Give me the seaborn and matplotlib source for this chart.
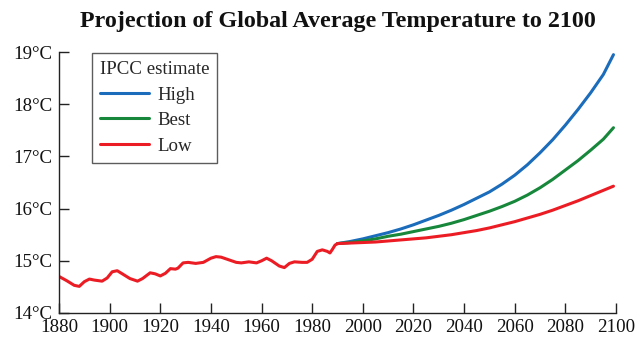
import pandas as pd
import matplotlib
matplotlib.use("Agg")
import matplotlib.pyplot as plt
import seaborn as sns

hist_years = [1880, 1883, 1886, 1888, 1890, 1892, 1894, 1897, 1899, 1901, 1903, 1905,
              1908, 1911, 1913, 1916, 1918, 1920, 1922, 1924, 1926, 1927, 1929, 1931,
              1934, 1937, 1940, 1942, 1944, 1947, 1950, 1952, 1955, 1958, 1960, 1962,
              1964, 1967, 1969, 1971, 1973, 1976, 1978, 1980, 1982, 1984, 1986, 1987,
              1988, 1989, 1990]
hist_temps = [14.70, 14.62, 14.53, 14.51, 14.60, 14.65, 14.63, 14.61, 14.67, 14.79, 14.81, 14.75,
              14.66, 14.61, 14.66, 14.77, 14.75, 14.71, 14.76, 14.85, 14.84, 14.86, 14.96, 14.97,
              14.95, 14.97, 15.05, 15.08, 15.07, 15.02, 14.97, 14.96, 14.98, 14.96, 15.00, 15.05,
              15.00, 14.90, 14.87, 14.95, 14.98, 14.97, 14.97, 15.03, 15.18, 15.21, 15.18, 15.15,
              15.22, 15.30, 15.33]

# IPCC projections
proj_years = [1990, 1995, 2000, 2005, 2010, 2015, 2020, 2025, 2030, 2035, 2040, 2045,
              2050, 2055, 2060, 2065, 2070, 2075, 2080, 2085, 2090, 2095, 2099]
high = [15.33, 15.37, 15.42, 15.48, 15.54, 15.61, 15.69, 15.78, 15.87, 15.97, 16.08, 16.20,
        16.32, 16.47, 16.64, 16.84, 17.07, 17.32, 17.60, 17.90, 18.22, 18.57, 18.95]
best = [15.33, 15.35, 15.38, 15.42, 15.47, 15.51, 15.56, 15.61, 15.66, 15.72, 15.79, 15.87,
        15.95, 16.04, 16.14, 16.26, 16.40, 16.56, 16.74, 16.92, 17.12, 17.33, 17.55]
low = [15.33, 15.34, 15.35, 15.36, 15.38, 15.40, 15.42, 15.44, 15.47, 15.50, 15.54, 15.58,
       15.63, 15.69, 15.75, 15.82, 15.89, 15.97, 16.06, 16.15, 16.25, 16.35, 16.43]

scenarios = ["High", "Best", "Low"]
colors = {"High": "#1b6cbb", "Best": "#17873b", "Low": "#ec1c24"}

sns.set_style("ticks")
plt.rcParams["font.family"] = ["Liberation Serif", "DejaVu Serif"]

hist_df = pd.DataFrame({"year": hist_years, "temp": hist_temps})
proj_df = pd.concat([
    pd.DataFrame({"year": proj_years, "temp": vals, "IPCC estimate": name})
    for name, vals in zip(scenarios, [high, best, low])
])

fig = plt.figure(figsize=(6.43, 3.38), dpi=100)
ax = fig.add_axes([0.0918, 0.074, 0.8662, 0.772])

sns.lineplot(data=proj_df, x="year", y="temp", hue="IPCC estimate", hue_order=scenarios,
             palette=colors, linewidth=2.2, ax=ax)
sns.lineplot(data=hist_df, x="year", y="temp", color=colors["Low"], linewidth=2.2,
             legend=False, ax=ax)

ax.set_xlim(1880, 2100)
ax.set_ylim(14, 19)
ax.set_xticks(range(1880, 2101, 20))
ax.set_yticks(range(14, 20))
ax.set_yticklabels([f"{t}°C" for t in range(14, 20)])
ax.set_xlabel("")
ax.set_ylabel("")
ax.tick_params(direction="in", length=7, width=1, labelsize=13.6, colors="#222222",
               labelcolor="#111111")
ax.tick_params(axis="x", pad=4)
ax.tick_params(axis="y", pad=5)
for side in ["top", "right"]:
    ax.spines[side].set_visible(False)
for side in ["left", "bottom"]:
    ax.spines[side].set_color("#222222")
    ax.spines[side].set_linewidth(1)

fig.suptitle("Projection of Global Average Temperature to 2100", fontsize=17.3,
             fontweight="bold", color="#111111", x=0.525, y=0.968, va="top")

leg = ax.legend(title="IPCC estimate", loc="upper left", bbox_to_anchor=(0.059, 0.996),
                borderaxespad=0, fontsize=13.6, title_fontsize=13.6, handlelength=2.6,
                handletextpad=0.45, labelspacing=0.44, fancybox=False, alignment="left",
                borderpad=0.42)
leg.get_frame().set_edgecolor("#333333")
leg.get_frame().set_linewidth(1)

fig.savefig("out.png", dpi=100)
